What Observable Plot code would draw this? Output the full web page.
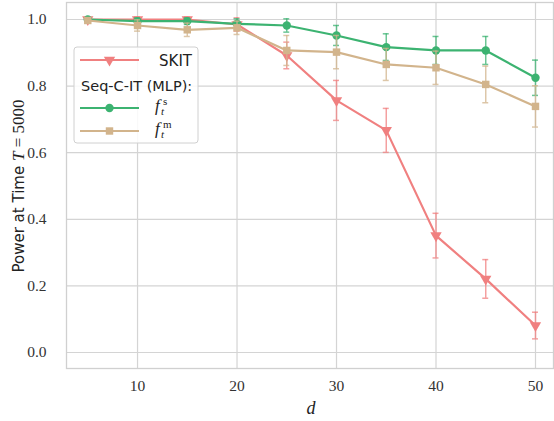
<!DOCTYPE html>
<html><head><meta charset="utf-8">
<script src="https://cdn.jsdelivr.net/npm/d3@7"></script>
<script src="https://cdn.jsdelivr.net/npm/@observablehq/plot@0.6"></script>
<style>
body{margin:0;background:#fff}
#chart{position:relative;width:554px;height:421px}
</style>
</head><body><div id="chart"></div>
<script>
// ---- data ----
const dims = [5, 10, 15, 20, 25, 30, 35, 40, 45, 50];
const skitPower = [1.0, 1.0, 1.0, 0.985, 0.892, 0.757, 0.667, 0.351, 0.221, 0.081];
const skitErr   = [0.005, 0.008, 0.008, 0.02, 0.04, 0.06, 0.066, 0.067, 0.058, 0.04];
const fsPower   = [1.0, 0.995, 0.995, 0.987, 0.982, 0.952, 0.917, 0.907, 0.907, 0.825];
const fsErr     = [0.005, 0.01, 0.01, 0.015, 0.02, 0.03, 0.04, 0.042, 0.042, 0.053];
const fmPower   = [0.997, 0.982, 0.969, 0.975, 0.907, 0.902, 0.865, 0.855, 0.805, 0.739];
const fmErr     = [0.008, 0.017, 0.02, 0.02, 0.045, 0.05, 0.048, 0.05, 0.055, 0.062];
const xTicks = [10, 20, 30, 40, 50];
const yTicks = [0, 0.2, 0.4, 0.6, 0.8, 1.0];

const seriesDefs = [
  {name: "SKIT", vals: skitPower, errs: skitErr, color: "lightcoral", symbol: "triangle", rotate: 180, r: 4.2},
  {name: "fs", vals: fsPower, errs: fsErr, color: "mediumseagreen", symbol: "circle", rotate: 0, r: 4.2},
  {name: "fm", vals: fmPower, errs: fmErr, color: "tan", symbol: "square", rotate: 0, r: 4.2}
];

const serif = "'Liberation Serif', 'DejaVu Serif', serif";
const sans = "'DejaVu Sans', sans-serif";

const marks = [
  Plot.gridX(xTicks, {stroke: "#d4d4d4", strokeOpacity: 1, strokeWidth: 1.2}),
  Plot.gridY(yTicks, {stroke: "#d4d4d4", strokeOpacity: 1, strokeWidth: 1.2}),
  Plot.frame({stroke: "#d0d0d0", strokeWidth: 1.3}),
  Plot.axisX(xTicks, {tickSize: 0, tickPadding: 11, fontSize: 15.5, fontFamily: serif, fill: "#333", label: null}),
  Plot.axisY(yTicks, {tickSize: 0, tickPadding: 20, fontSize: 15.5, fontFamily: serif, fill: "#333", tickFormat: d3.format(".1f"), label: null})
];

for (const s of seriesDefs) {
  const rows = dims.map((d, i) => ({d, v: s.vals[i], lo: s.vals[i] - s.errs[i], hi: s.vals[i] + s.errs[i]}));
  marks.push(
    Plot.ruleX(rows, {x: "d", y1: "lo", y2: "hi", stroke: s.color, strokeWidth: 1.5, strokeOpacity: 0.75}),
    Plot.ruleY(rows, {y: "lo", x1: d => d.d - 0.3, x2: d => d.d + 0.3, stroke: s.color, strokeWidth: 1.5, strokeOpacity: 0.75}),
    Plot.ruleY(rows, {y: "hi", x1: d => d.d - 0.3, x2: d => d.d + 0.3, stroke: s.color, strokeWidth: 1.5, strokeOpacity: 0.75}),
    Plot.line(rows, {x: "d", y: "v", stroke: s.color, strokeWidth: 2.2}),
    Plot.dot(rows, {x: "d", y: "v", fill: s.color, stroke: "none", symbol: s.symbol, rotate: s.rotate, r: s.r})
  );
}

const plot = Plot.plot({
  width: 554,
  height: 421,
  marginLeft: 66,
  marginRight: 1,
  marginTop: 2,
  marginBottom: 53,
  x: {domain: [2.86, 51.81]},
  y: {domain: [-0.048, 1.051]},
  style: {background: "#fff", overflow: "visible"},
  marks
});

const svg = d3.select(plot);
// axis titles
const yl = svg.append("text")
  .attr("transform", "translate(24,186) rotate(-90)")
  .attr("text-anchor", "middle")
  .attr("fill", "#222");
yl.append("tspan").attr("font-family", sans).attr("font-size", 15).text("Power at Time ");
yl.append("tspan").attr("font-family", serif).attr("font-size", 17).attr("font-style", "italic").text("T");
yl.append("tspan").attr("font-family", serif).attr("font-size", 17).text(" = 5000");

svg.append("text")
  .attr("x", 311).attr("y", 414)
  .attr("text-anchor", "middle")
  .attr("font-family", serif).attr("font-style", "italic")
  .attr("font-size", 18).attr("fill", "#222")
  .text("d");

// legend
const lg = svg.append("g").attr("text-anchor", "start");
lg.append("rect").attr("x", 74).attr("y", 47).attr("width", 124).attr("height", 96)
  .attr("rx", 3).attr("fill", "#fff").attr("fill-opacity", 0.85).attr("stroke", "#d0d0d0");
const sym = (name) => d3.symbol(name === "triangle" ? d3.symbolTriangle : name === "circle" ? d3.symbolCircle : d3.symbolSquare, 55)();
const entryY = [60, 108, 131];
seriesDefs.forEach((s, i) => {
  const y = entryY[i];
  lg.append("line").attr("x1", 80).attr("x2", 139).attr("y1", y).attr("y2", y)
    .attr("stroke", s.color).attr("stroke-width", 2.2);
  lg.append("path").attr("d", sym(s.symbol)).attr("fill", s.color)
    .attr("transform", `translate(109.5,${y}) rotate(${s.rotate})`);
});
lg.append("text").attr("x", 192).attr("y", 65.5).attr("text-anchor", "end")
  .attr("font-family", sans).attr("font-size", 15).attr("fill", "#222").text("SKIT");
lg.append("text").attr("x", 81).attr("y", 91).attr("text-anchor", "start")
  .attr("font-family", sans).attr("font-size", 14.5).attr("fill", "#222").text("Seq-C-IT (MLP):");
function mathF(y, sup) {
  lg.append("text").attr("x", 155).attr("y", y).attr("text-anchor", "start")
    .attr("font-family", serif).attr("font-style", "italic").attr("font-size", 17).attr("fill", "#222").text("f");
  lg.append("text").attr("x", 163).attr("y", y - 6).attr("text-anchor", "start")
    .attr("font-family", serif).attr("font-size", 11).attr("fill", "#222").text(sup);
  lg.append("text").attr("x", 161).attr("y", y + 4).attr("text-anchor", "start")
    .attr("font-family", serif).attr("font-style", "italic").attr("font-size", 11).attr("fill", "#222").text("t");
}
mathF(111, "s");
mathF(134, "m");

document.getElementById("chart").appendChild(plot);
</script>
</body></html>
